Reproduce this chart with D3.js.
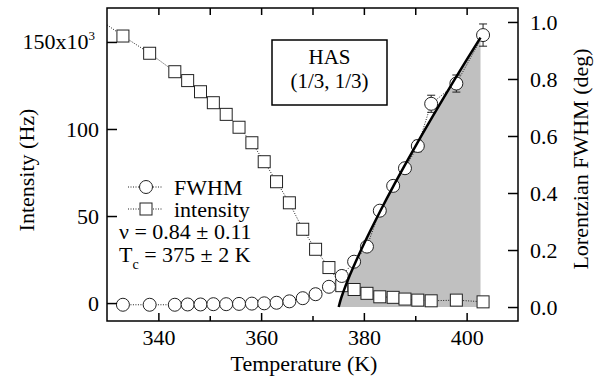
<!DOCTYPE html>
<html>
<head>
<meta charset="utf-8">
<script src="https://cdnjs.cloudflare.com/ajax/libs/d3/7.8.5/d3.min.js"></script>
<style>
  body { margin: 0; background: white; }
  text { font-family: "Liberation Serif", "Times New Roman", serif; fill: black; }
</style>
</head>
<body>
<div id="chart"></div>
<script>
// temperatures (K) of the measured points
const temperature = [333.1, 338.3, 343.2, 345.7, 348.2, 350.7, 353.2, 355.7, 358.2, 360.6, 363.0, 365.5,
                     368.1, 370.6, 373.2, 375.7, 378.1, 380.6, 383.1, 385.7, 388.0, 390.5, 393.1, 398.0, 403.2];
// Lorentzian FWHM (deg), right axis
const fwhm = [0.008, 0.008, 0.008, 0.009, 0.009, 0.010, 0.010, 0.011, 0.012, 0.013, 0.015, 0.020,
              0.031, 0.045, 0.071, 0.109, 0.159, 0.212, 0.338, 0.425, 0.487, 0.565, 0.713, 0.784, 0.954];
const fwhmErr = [0.01, 0.01, 0.01, 0.01, 0.01, 0.01, 0.01, 0.01, 0.01, 0.01, 0.01, 0.01,
                 0.01, 0.01, 0.01, 0.01, 0.012, 0.012, 0.015, 0.015, 0.018, 0.02, 0.03, 0.03, 0.039];
// intensity (x10^3 Hz), left axis; first point lies left of the frame
const intensityT = [328, 333.1, 338.3, 343.2, 345.7, 348.2, 350.7, 353.2, 355.7, 358.2, 360.6, 363.0, 365.5,
                    368.1, 370.6, 373.2, 375.7, 378.1, 380.6, 383.1, 385.7, 388.0, 390.5, 393.1, 398.0, 403.2];
const intensity = [164, 153.4, 143.5, 132.9, 127.8, 121.4, 115.1, 108.4, 101.0, 92.1, 81.2, 69.7, 57.6,
                   42.4, 30.9, 20.4, 10.0, 7.8, 5.6, 3.6, 3.3, 2.3, 1.7, 1.3, 1.7, 0.7];
// power-law fit curve
const fitT = [375.1, 375.5, 376, 377, 378, 380, 383, 386, 390, 395, 400, 402.7];
const fitF = [0, 0.027, 0.053, 0.100, 0.142, 0.221, 0.330, 0.433, 0.563, 0.718, 0.867, 0.945];

const xTicks = [340, 360, 380, 400];
const xMinor = [350, 370, 390];
const leftTicks = [0, 50, 100, 150];
const rightTicks = [0, 0.2, 0.4, 0.6, 0.8, 1.0];

const width = 600, height = 381;
const plot = { left: 107, right: 518, top: 8, bottom: 321 };

const svg = d3.select('#chart')
  .append('svg')
  .attr('width', width)
  .attr('height', height);

const x = d3.scaleLinear().domain([330, 410]).range([plot.left, plot.right]);
const yL = d3.scaleLinear().domain([-10.3, 169.5]).range([plot.bottom, plot.top]);
const yR = d3.scaleLinear().domain([-0.049, 1.049]).range([plot.bottom, plot.top]);

svg.append('clipPath').attr('id', 'clip')
  .append('rect')
  .attr('x', plot.left).attr('y', plot.top)
  .attr('width', plot.right - plot.left).attr('height', plot.bottom - plot.top);

const g = svg.append('g').attr('clip-path', 'url(#clip)');

// gray area under the fit
const fitData = fitT.map((t, i) => ({ t: t, f: fitF[i] }));
g.append('path')
  .datum(fitData)
  .attr('d', d3.area().x(d => x(d.t)).y0(yR(0)).y1(d => yR(d.f)))
  .style('fill', '#c0c0c0');

// dotted connecting lines
const dotted = (sel) => sel.style('fill', 'none').style('stroke', '#222')
  .style('stroke-width', 1).style('stroke-dasharray', '1,1.5');

const iData = intensityT.map((t, i) => ({ t: t, v: intensity[i] }));
g.append('path').datum(iData)
  .attr('d', d3.line().x(d => x(d.t)).y(d => yL(d.v)))
  .call(dotted);

const fData = temperature.map((t, i) => ({ t: t, v: fwhm[i], e: fwhmErr[i] }));
g.append('path').datum(fData)
  .attr('d', d3.line().x(d => x(d.t)).y(d => yR(d.v)))
  .call(dotted);

// intensity squares
g.selectAll('.sq')
  .data(iData)
  .enter()
  .append('rect')
  .classed('sq', true)
  .attr('x', d => x(d.t) - 6)
  .attr('y', d => yL(d.v) - 6)
  .attr('width', 12)
  .attr('height', 12)
  .style('fill', 'white')
  .style('stroke', '#222')
  .style('stroke-width', 1);

// error bars
const eb = g.selectAll('.eb')
  .data(fData)
  .enter()
  .append('g')
  .classed('eb', true)
  .style('stroke', '#222')
  .style('stroke-width', 1);
eb.append('line')
  .attr('x1', d => x(d.t)).attr('x2', d => x(d.t))
  .attr('y1', d => yR(d.v - d.e)).attr('y2', d => yR(d.v + d.e));
[-1, 1].forEach(s => {
  eb.append('line')
    .attr('x1', d => x(d.t) - 4).attr('x2', d => x(d.t) + 4)
    .attr('y1', d => yR(d.v + s * d.e)).attr('y2', d => yR(d.v + s * d.e));
});

// FWHM circles
g.selectAll('.ci')
  .data(fData)
  .enter()
  .append('circle')
  .classed('ci', true)
  .attr('cx', d => x(d.t))
  .attr('cy', d => yR(d.v))
  .attr('r', 6.5)
  .style('fill', 'white')
  .style('stroke', '#222')
  .style('stroke-width', 1);

// fit line
g.append('path')
  .datum(fitData)
  .attr('d', d3.line().x(d => x(d.t)).y(d => yR(d.f)).curve(d3.curveMonotoneX))
  .style('fill', 'none')
  .style('stroke', 'black')
  .style('stroke-width', 2.5);

// frame
svg.append('rect')
  .attr('x', plot.left).attr('y', plot.top)
  .attr('width', plot.right - plot.left).attr('height', plot.bottom - plot.top)
  .style('fill', 'none')
  .style('stroke', 'black')
  .style('stroke-width', 1.5);

// axes (ticks inward)
const xAxis = d3.axisBottom(x).tickValues(xTicks).tickSize(-8).tickPadding(8).tickFormat(d3.format('d'));
const xAxisMinor = d3.axisBottom(x).tickValues(xMinor).tickSize(-5).tickFormat('');
const xTop = d3.axisTop(x).tickValues(xTicks.concat(xMinor)).tickSize(-7).tickFormat('');
const yAxisL = d3.axisLeft(yL).tickValues(leftTicks).tickSize(-10).tickPadding(8).tickFormat(d => d === 150 ? '' : d);
const yAxisR = d3.axisRight(yR).tickValues(rightTicks).tickSize(-10).tickPadding(12).tickFormat(d3.format('.1f'));

svg.append('g').classed('xAxis', true).attr('transform', `translate(0,${plot.bottom})`).call(xAxis);
svg.append('g').classed('xAxis', true).attr('transform', `translate(0,${plot.bottom})`).call(xAxisMinor);
svg.append('g').classed('xAxis', true).attr('transform', `translate(0,${plot.top})`).call(xTop);
svg.append('g').classed('yAxisL', true).attr('transform', `translate(${plot.left},0)`).call(yAxisL);
svg.append('g').classed('yAxisR', true).attr('transform', `translate(${plot.right},0)`).call(yAxisR);

svg.selectAll('.domain').remove();
svg.selectAll('.tick line').attr('stroke', 'black').attr('stroke-width', 1.5);
svg.selectAll('.tick text')
  .style('font-family', '"Liberation Serif", serif')
  .style('font-size', '22px')
  .attr('fill', 'black');

// 150x10^3 label
const t150 = svg.append('text')
  .attr('x', plot.left - 12)
  .attr('y', yL(150) + 7)
  .attr('text-anchor', 'end')
  .style('font-size', '22px');
t150.append('tspan').text('150x10');
t150.append('tspan').text('3').attr('dy', -9).style('font-size', '13px');

// axis titles
svg.append('text')
  .attr('transform', 'translate(34,170) rotate(-90)')
  .attr('text-anchor', 'middle')
  .style('font-size', '22px')
  .text('Intensity (Hz)');

svg.append('text')
  .attr('transform', 'translate(588,159) rotate(-90)')
  .attr('text-anchor', 'middle')
  .style('font-size', '22px')
  .text('Lorentzian FWHM (deg)');

svg.append('text')
  .attr('x', 304)
  .attr('y', 371)
  .attr('text-anchor', 'middle')
  .style('font-size', '22px')
  .text('Temperature (K)');

// HAS box
svg.append('rect')
  .attr('x', 272).attr('y', 40)
  .attr('width', 115).attr('height', 65)
  .style('fill', 'white')
  .style('stroke', 'black')
  .style('stroke-width', 1.5);
svg.append('text').attr('x', 329.5).attr('y', 64).attr('text-anchor', 'middle')
  .style('font-size', '21px').text('HAS');
svg.append('text').attr('x', 329.5).attr('y', 88).attr('text-anchor', 'middle')
  .style('font-size', '21px').text('(1/3, 1/3)');

// legend
const legend = svg.append('g');
[[195, 'FWHM', 'circle'], [217, 'intensity', 'square']].forEach(([yy, label, shape]) => {
  const cy = yy - 8;
  legend.append('line')
    .attr('x1', 128).attr('x2', 163).attr('y1', cy).attr('y2', cy)
    .call(dotted);
  if (shape === 'circle') {
    legend.append('circle').attr('cx', 146).attr('cy', cy).attr('r', 6.5)
      .style('fill', 'white').style('stroke', '#222');
  } else {
    legend.append('rect').attr('x', 140).attr('y', cy - 6).attr('width', 12).attr('height', 12)
      .style('fill', 'white').style('stroke', '#222');
  }
  legend.append('text').attr('x', 174).attr('y', yy).style('font-size', '22px').text(label);
});

legend.append('text').attr('x', 119).attr('y', 239).style('font-size', '22px')
  .text('ν = 0.84 ± 0.11');
const tc = legend.append('text').attr('x', 119).attr('y', 261.5).style('font-size', '22px');
tc.append('tspan').text('T');
tc.append('tspan').text('c').attr('dy', 7).style('font-size', '14px');
tc.append('tspan').text(' = 375 ± 2 K').attr('dy', -7);
</script>
</body>
</html>
